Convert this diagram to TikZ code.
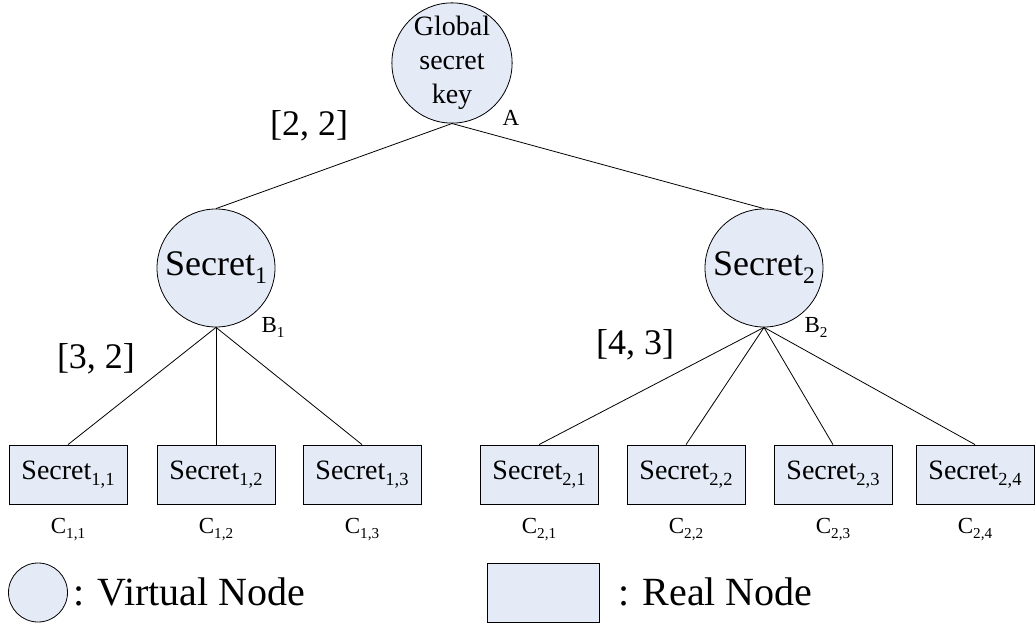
\documentclass[tikz,border=0pt]{standalone}
\usepackage{fontspec}
\setmainfont{Liberation Serif}
\usepackage{graphicx}
\definecolor{nodefill}{RGB}{228,234,246}
% lowered, reduced-size index that scales with the current font
\newcommand{\idx}[1]{\raisebox{-0.22em}{\scalebox{0.66}{#1}}}
\begin{document}
\begin{tikzpicture}[x=1pt,y=-1pt,
  virt/.style={circle,draw=black,fill=nodefill,line width=0.8pt,minimum size=118pt,inner sep=0pt},
  real/.style={rectangle,draw=black,fill=nodefill,line width=0.8pt,minimum width=118pt,minimum height=59pt,inner sep=0pt,font=\fontsize{28}{30}\selectfont},
  link/.style={line width=0.8pt},
  tag/.style={font=\fontsize{23}{25}\selectfont,anchor=base,inner sep=0pt},
  ratio/.style={font=\fontsize{36}{40}\selectfont,inner sep=0pt},
  legend/.style={font=\fontsize{40}{44}\selectfont,anchor=base west,inner sep=0pt}]
\useasboundingbox (0,0) rectangle (1036,628);

% tree nodes
\node[virt,align=center,font=\fontsize{28}{34}\selectfont] (g) at (452,63) {Global\\secret\\key};
\node[virt,font=\fontsize{36}{40}\selectfont] (s1) at (216,268) {Secret\idx{1}};
\node[virt,font=\fontsize{36}{40}\selectfont] (s2) at (764,268) {Secret\idx{2}};

\node[real] (c11) at (68,474.5)  {Secret\idx{1,1}};
\node[real] (c12) at (216,474.5) {Secret\idx{1,2}};
\node[real] (c13) at (362,474.5) {Secret\idx{1,3}};
\node[real] (c21) at (539,474.5) {Secret\idx{2,1}};
\node[real] (c22) at (686,474.5) {Secret\idx{2,2}};
\node[real] (c23) at (833,474.5) {Secret\idx{2,3}};
\node[real] (c24) at (975,474.5) {Secret\idx{2,4}};

% connectors
\draw[link] (g.south) -- (s1.north);
\draw[link] (g.south) -- (s2.north);
\foreach \c in {c11,c12,c13} \draw[link] (s1.south) -- (\c.north);
\foreach \c in {c21,c22,c23,c24} \draw[link] (s2.south) -- (\c.north);

% node names
\node[tag] (la) at (511,126) {A};
\node[tag] (lb1) at (273,332) {B\idx{1}};
\node[tag] (lb2) at (816,332) {B\idx{2}};
\node[tag] (l11) at (68,533)  {C\idx{1,1}};
\node[tag] (l12) at (216,533) {C\idx{1,2}};
\node[tag] (l13) at (362,533) {C\idx{1,3}};
\node[tag] (l21) at (539,533) {C\idx{2,1}};
\node[tag] (l22) at (686,533) {C\idx{2,2}};
\node[tag] (l23) at (833,533) {C\idx{2,3}};
\node[tag] (l24) at (975,533) {C\idx{2,4}};

% threshold parameters
\node[ratio] (r1) at (309,126) {[2, 2]};
\node[ratio] (r2) at (96,359) {[3, 2]};
\node[ratio] (r3) at (635,345) {[4, 3]};

% legend
\node[circle,draw=black,fill=nodefill,line width=0.8pt,minimum size=59pt,inner sep=0pt] (kv) at (38,592.5) {};
\node[legend] (kvt) at (73,605) {: Virtual Node};
\node[rectangle,draw=black,fill=nodefill,line width=0.8pt,minimum width=112pt,minimum height=59pt,inner sep=0pt] (kr) at (543,592.5) {};
\node[legend] (krt) at (618,605) {: Real Node};
\end{tikzpicture}
\end{document}
